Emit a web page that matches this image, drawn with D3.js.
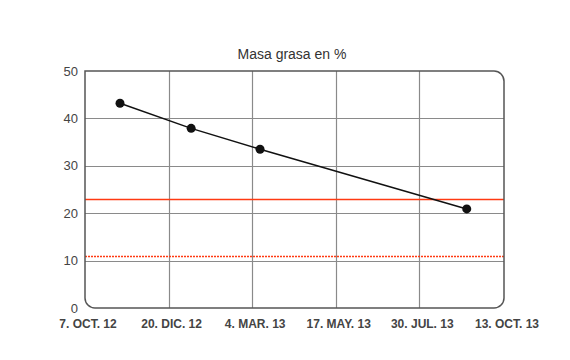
<!DOCTYPE html>
<html><head><meta charset="utf-8">
<script src="https://cdn.jsdelivr.net/npm/d3@7"></script>
<style>body{margin:0;background:#fff}</style>
</head><body>
<script>
const dates = ["2012-11-07","2013-01-09","2013-03-11","2013-09-10"];
const values = [43.2, 37.9, 33.5, 20.9];
const tickDates = ["2012-10-07","2012-12-20","2013-03-04","2013-05-17","2013-07-30","2013-10-13"];
const tickLabels = ["7. OCT. 12","20. DIC. 12","4. MAR. 13","17. MAY. 13","30. JUL. 13","13. OCT. 13"];
const yTicks = [0,10,20,30,40,50];
const refSolid = 23;
const refDotted = 11;
const title = "Masa grasa en %";

const W=570,H=360, L=85,R=504,T=71,B=308;
const parse = d3.utcParse("%Y-%m-%d");
const svg = d3.select("body").append("svg").attr("width",W).attr("height",H)
  .style("font-family","'Liberation Sans', Arial, sans-serif");
const x = d3.scaleUtc().domain([parse(tickDates[0]), parse(tickDates[tickDates.length-1])]).range([L,R]);
const y = d3.scaleLinear().domain([0,50]).range([B,T]);
const snap = v => Math.round(v)+0.5;

// gridlines
svg.append("g").selectAll("line").data(yTicks.slice(1,-1)).join("line")
  .attr("x1",L).attr("x2",R).attr("y1",d=>snap(y(d))).attr("y2",d=>snap(y(d)))
  .attr("stroke","#8a8a8a").attr("stroke-width",1.2);
svg.append("g").selectAll("line").data(tickDates.slice(1,-1)).join("line")
  .attr("y1",T).attr("y2",B).attr("x1",d=>snap(x(parse(d)))).attr("x2",d=>snap(x(parse(d))))
  .attr("stroke","#8a8a8a").attr("stroke-width",1.2);

// reference lines
svg.append("line").attr("x1",L).attr("x2",R).attr("y1",snap(y(refSolid))).attr("y2",snap(y(refSolid)))
  .attr("stroke","#ff3a12").attr("stroke-width",1.5);
svg.append("line").attr("x1",L).attr("x2",R).attr("y1",snap(y(refDotted))).attr("y2",snap(y(refDotted)))
  .attr("stroke","#ff3a12").attr("stroke-width",1.5).attr("stroke-dasharray","2,1");

// border with rounded corners (except top-left)
const r=10;
const p = d3.path();
p.moveTo(L,T); p.lineTo(R-r,T); p.arcTo(R,T,R,T+r,r); p.lineTo(R,B-r);
p.arcTo(R,B,R-r,B,r); p.lineTo(L+r,B); p.arcTo(L,B,L,B-r,r); p.closePath();
svg.append("path").attr("d",p.toString()).attr("fill","none").attr("stroke","#555").attr("stroke-width",1.5);

// y axis labels
svg.append("g").selectAll("text").data(yTicks).join("text")
  .attr("x",L-7).attr("y",d=>y(d)).attr("dy","0.35em").attr("text-anchor","end")
  .attr("font-size",13).attr("fill","#444").text(d=>d);

// x axis labels
svg.append("g").selectAll("text").data(tickDates).join("text")
  .attr("x",d=>x(parse(d))+3).attr("y",328).attr("text-anchor","middle")
  .attr("font-size",12).attr("font-weight","bold").attr("fill","#444")
  .text((d,i)=>tickLabels[i]);

// title
svg.append("text").attr("x",292).attr("y",59).attr("text-anchor","middle")
  .attr("font-size",14).attr("fill","#333").text(title);

// series
const data = dates.map((d,i)=>({d:parse(d),v:values[i]}));
svg.append("path").datum(data).attr("fill","none").attr("stroke","#111").attr("stroke-width",1.5)
  .attr("d",d3.line().x(d=>x(d.d)).y(d=>y(d.v)));
svg.append("g").selectAll("circle").data(data).join("circle")
  .attr("cx",d=>x(d.d)).attr("cy",d=>y(d.v)).attr("r",4.5).attr("fill","#111");
</script>
</body></html>
